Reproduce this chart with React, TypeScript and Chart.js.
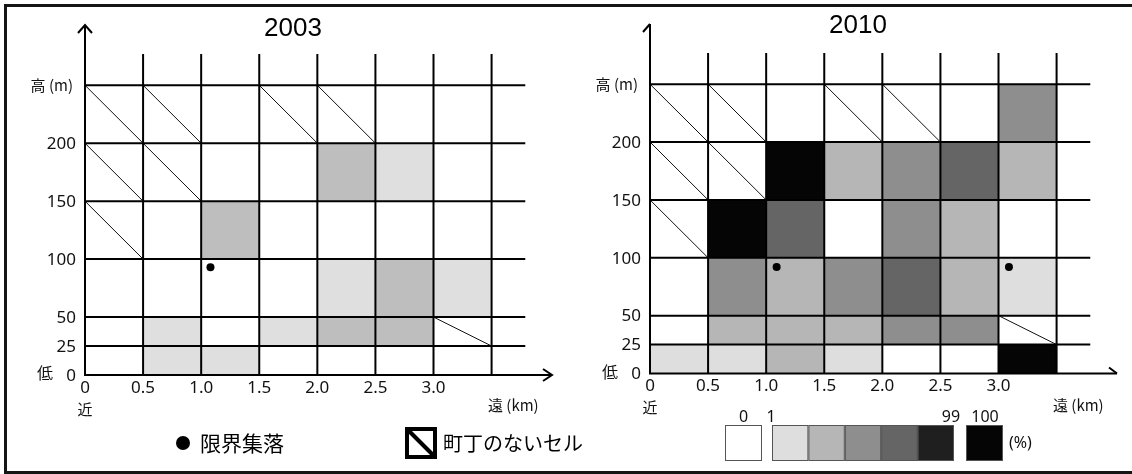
import React, { useEffect, useRef } from 'react';
import { Chart, registerables } from 'chart.js';

Chart.register(...registerables);

const W = 1132;
const H = 474;

// ---- data ----
const distanceEdges = [0, 0.5, 1.0, 1.5, 2.0, 2.5, 3.0, 3.5];
const elevationEdges = [0, 25, 50, 100, 150, 200, 250];
const distanceTicks = [0, 0.5, 1.0, 1.5, 2.0, 2.5, 3.0];
const distanceTickLabels = ['0', '0.5', '1.0', '1.5', '2.0', '2.5', '3.0'];
const elevationTicks = [0, 25, 50, 100, 150, 200];
const elevationTickLabels = ['0', '25', '50', '100', '150', '200'];

const N = -1; // 町丁のないセル
// rows from low (0-25 m) to high (200 m-), columns from near (0-0.5 km) to far (3.0-3.5 km)
// 0 = 0%, 1..5 = 1-99% shade classes, 6 = 100%
const cells2003 = [
  [0, 1, 1, 0, 0, 0, 0],
  [0, 1, 0, 1, 2, 2, N],
  [0, 0, 0, 0, 1, 2, 1],
  [N, 0, 2, 0, 0, 0, 0],
  [N, N, 0, 0, 2, 1, 0],
  [N, N, 0, N, N, 0, 0],
];
const cells2010 = [
  [1, 1, 2, 1, 0, 0, 6],
  [0, 2, 2, 2, 3, 3, N],
  [0, 3, 2, 3, 4, 2, 1],
  [N, 6, 4, 0, 3, 2, 0],
  [N, N, 6, 2, 3, 4, 2],
  [N, N, 0, N, N, 0, 3],
];
const villages2003 = [{ x: 1.08, y: 93 }];
const villages2010 = [
  { x: 1.09, y: 92 },
  { x: 3.09, y: 92 },
];
const legendClasses = [0, 1, 2, 3, 4, 5, 6];
const legendScaleLabels = ['0', '1', '99', '100'];

// ---- styles ----
const palette2010 = ['#ffffff', '#dedede', '#b6b6b6', '#8e8e8e', '#656565', '#1f1f1f', '#050505'];
const palette2003 = ['#ffffff', '#dedfde', '#bdbebd', '#8e8e8e', '#656565', '#1f1f1f', '#050505'];
const X_MAX = 4.02;
const Y_MAX = 302;
const GRID_X_END = 3.79;
const GRID_Y_END = 277;
const NUM_FONT = '17px "Noto Sans", "Noto Sans CJK JP", sans-serif';
const JP_FONT = (s: number) => `${s}px "Noto Sans CJK JP", "Noto Sans", sans-serif`;

type Area = { left: number; right: number; top: number; bottom: number };
type PanelCfg = {
  title: string;
  cells: number[][];
  villages: { x: number; y: number }[];
  palette: string[];
  area: Area;
  arrow: 'full' | 'half';
  legend: 'symbols' | 'scale';
  border: boolean;
};

const panels: PanelCfg[] = [
  {
    title: '2003',
    cells: cells2003,
    villages: villages2003,
    palette: palette2003,
    area: { left: 85, right: 552, top: 25, bottom: 375 },
    arrow: 'full',
    legend: 'symbols',
    border: true,
  },
  {
    title: '2010',
    cells: cells2010,
    villages: villages2010,
    palette: palette2010,
    area: { left: 650, right: 1117, top: 24, bottom: 373.5 },
    arrow: 'half',
    legend: 'scale',
    border: false,
  },
];

function panelPlugin(cfg: PanelCfg) {
  return {
    id: 'panel' + cfg.title,
    beforeDatasetsDraw(chart: any) {
      const ctx: CanvasRenderingContext2D = chart.ctx;
      const xs = chart.scales.x;
      const ys = chart.scales.y;
      const px = (v: number) => xs.getPixelForValue(v);
      const py = (v: number) => ys.getPixelForValue(v);
      ctx.save();

      // cells
      cfg.cells.forEach((row, r) => {
        row.forEach((v, c) => {
          const x0 = px(distanceEdges[c]);
          const x1 = px(distanceEdges[c + 1]);
          const y0 = py(elevationEdges[r + 1]);
          const y1 = py(elevationEdges[r]);
          if (v === N) {
            ctx.beginPath();
            ctx.strokeStyle = '#111';
            ctx.lineWidth = 1;
            ctx.moveTo(x0, y0);
            ctx.lineTo(x1, y1);
            ctx.stroke();
          } else if (v > 0) {
            ctx.fillStyle = cfg.palette[v];
            ctx.fillRect(x0, y0, x1 - x0, y1 - y0);
          }
        });
      });

      // grid
      ctx.strokeStyle = '#000';
      ctx.lineWidth = 2;
      distanceEdges.slice(1).forEach((d) => {
        ctx.beginPath();
        ctx.moveTo(px(d), py(0));
        ctx.lineTo(px(d), py(GRID_Y_END));
        ctx.stroke();
      });
      elevationEdges.slice(1).forEach((e) => {
        ctx.beginPath();
        ctx.moveTo(px(0), py(e));
        ctx.lineTo(px(GRID_X_END), py(e));
        ctx.stroke();
      });

      // axes
      const ox = px(0);
      const oy = py(0);
      const xe = px(X_MAX);
      const ye = py(Y_MAX);
      ctx.beginPath();
      ctx.moveTo(ox - 1, oy);
      ctx.lineTo(xe, oy);
      ctx.moveTo(ox, oy + 1);
      ctx.lineTo(ox, ye);
      ctx.stroke();
      ctx.beginPath();
      if (cfg.arrow === 'full') {
        ctx.moveTo(xe - 9, oy - 6);
        ctx.lineTo(xe, oy);
        ctx.lineTo(xe - 9, oy + 6);
        ctx.moveTo(ox - 7, ye + 8);
        ctx.lineTo(ox, ye);
        ctx.lineTo(ox + 7, ye + 8);
      } else {
        ctx.moveTo(xe - 8, oy - 6);
        ctx.lineTo(xe, oy);
        ctx.moveTo(ox - 7, ye + 8);
        ctx.lineTo(ox, ye);
      }
      ctx.stroke();

      // tick labels
      ctx.fillStyle = '#111';
      ctx.font = NUM_FONT;
      ctx.textBaseline = 'middle';
      ctx.textAlign = 'right';
      elevationTicks.forEach((t, i) => {
        ctx.fillText(elevationTickLabels[i], ox - 9, py(t) + 1);
      });
      ctx.font = JP_FONT(15);
      ctx.fillText('高 (m)', ox - 12, py(250));
      ctx.textAlign = 'center';
      ctx.font = JP_FONT(16);
      ctx.fillText('低', ox - 40, oy - 2);
      ctx.font = NUM_FONT;
      distanceTicks.forEach((t, i) => {
        ctx.fillText(distanceTickLabels[i], px(t), oy + 13);
      });
      ctx.font = JP_FONT(15);
      ctx.fillText('近', ox, oy + 34);
      ctx.textAlign = 'left';
      ctx.fillText('遠 (km)', ox + 403, 405);

      // title
      ctx.textAlign = 'center';
      ctx.font = '26px "Liberation Sans", Arial, sans-serif';
      ctx.fillStyle = '#000';
      ctx.fillText(cfg.title, ox + 208, cfg.arrow === 'full' ? 29 : 26);

      // legend
      if (cfg.legend === 'symbols') {
        ctx.beginPath();
        ctx.arc(183, 443, 7, 0, Math.PI * 2);
        ctx.fill();
        ctx.textAlign = 'left';
        ctx.font = JP_FONT(21);
        ctx.fillText('限界集落', 200, 443);
        ctx.lineWidth = 4;
        ctx.strokeStyle = '#000';
        ctx.strokeRect(407, 429, 28, 28);
        ctx.beginPath();
        ctx.moveTo(407, 429);
        ctx.lineTo(435, 457);
        ctx.stroke();
        ctx.font = JP_FONT(20);
        ctx.fillText('町丁のないセル', 443, 443);
      } else {
        const boxX = [725, 772, 808.4, 844.8, 881.2, 917.6, 966];
        const bw = [37, 36.4, 36.4, 36.4, 36.4, 36.4, 37];
        legendClasses.forEach((cls, i) => {
          ctx.fillStyle = palette2010[cls];
          ctx.fillRect(boxX[i], 425, bw[i], 36);
          ctx.lineWidth = 1;
          ctx.strokeStyle = '#555';
          ctx.strokeRect(boxX[i] + 0.5, 425.5, bw[i] - 1, 35);
        });
        ctx.fillStyle = '#111';
        ctx.font = '16px "Noto Sans", sans-serif';
        ctx.textAlign = 'center';
        const lx = [743.5, 771, 951, 985];
        legendScaleLabels.forEach((l, i) => ctx.fillText(l, lx[i], 417));
        ctx.textAlign = 'left';
        ctx.fillText('(%)', 1009, 443);
      }

      // frame
      if (cfg.border) {
        ctx.lineWidth = 3;
        ctx.strokeStyle = '#151515';
        ctx.strokeRect(5.5, 5.5, 1200, 467);
      }
      ctx.restore();
    },
  };
}

function Panel({ cfg }: { cfg: PanelCfg }) {
  const ref = useRef<HTMLCanvasElement | null>(null);
  useEffect(() => {
    if (!ref.current) return;
    const a = cfg.area;
    const chart = new Chart(ref.current, {
      type: 'scatter',
      data: {
        datasets: [
          {
            data: cfg.villages,
            pointRadius: 4,
            pointBackgroundColor: '#000',
            pointBorderWidth: 0,
            pointHoverRadius: 4,
          },
        ],
      },
      options: {
        animation: false,
        responsive: false,
        devicePixelRatio: 1,
        events: [],
        layout: { padding: { left: a.left, right: W - a.right, top: a.top, bottom: H - a.bottom } },
        scales: {
          x: { type: 'linear', display: false, min: 0, max: X_MAX },
          y: { type: 'linear', display: false, min: 0, max: Y_MAX },
        },
        plugins: {
          legend: { display: false },
          tooltip: { enabled: false },
          title: { display: false },
        },
      },
      plugins: [panelPlugin(cfg)],
    } as any);
    return () => chart.destroy();
  }, [cfg]);
  return (
    <canvas
      ref={ref}
      width={W}
      height={H}
      style={{ position: 'absolute', left: 0, top: 0, width: W, height: H }}
    />
  );
}

export default function App() {
  return (
    <div style={{ position: 'absolute', left: 0, top: 0, width: W, height: H, background: '#fff', overflow: 'hidden' }}>
      {panels.map((p) => (
        <Panel key={p.title} cfg={p} />
      ))}
    </div>
  );
}
